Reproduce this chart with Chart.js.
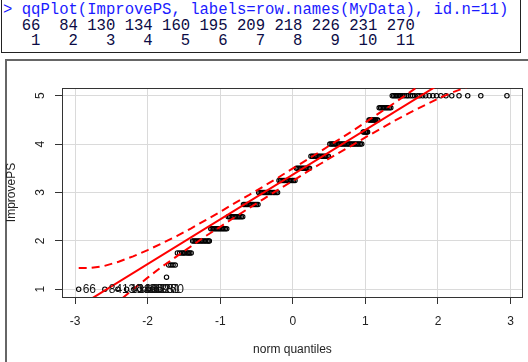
<!DOCTYPE html>
<html>
<head>
<meta charset="utf-8">
<script src="https://cdn.jsdelivr.net/npm/chart.js@4/dist/chart.umd.min.js"></script>
<style>
  body { margin:0; width:528px; height:362px; overflow:hidden; position:relative; background:#fff; }
  #consola { position:absolute; left:1px; top:-1px; width:518px; height:52px; border:1px solid #222; background:#fff; }
  #consola pre { margin:0; position:absolute; left:1px; top:3.3px; font-family:"Liberation Mono", monospace; font-size:15.6px; line-height:15.5px; color:#0b0b45; }
  #consola .cmd { color:#1a1aff; }
  #marco { position:absolute; left:5px; top:59px; width:540px; height:320px; border:2px solid #666; }
  #myChart { position:absolute; left:0; top:0; }
</style>
</head>
<body>
<div id="consola"><pre id="salida"></pre></div>
<div id="marco"></div>
<canvas id="myChart" width="528" height="362"></canvas>
<script>
// valores de ImprovePS (niveles) y cuantiles normales
const niveles = [1, 1.25, 1.5, 1.75, 2, 2.25, 2.5, 2.75, 3, 3.25, 3.5, 3.75, 4, 4.25, 4.5, 4.75, 5];
const cuantiles = [
  [-2.95, -2.59, -2.41, -2.29, -2.19, -2.11, -2.04, -1.98, -1.93, -1.88, -1.83],
  [-1.74],
  [-1.71, -1.68, -1.65, -1.62],
  [-1.59, -1.56, -1.53, -1.51, -1.49, -1.46, -1.44, -1.42, -1.40],
  [-1.38, -1.36, -1.34, -1.32, -1.30, -1.28, -1.26, -1.24, -1.22, -1.20, -1.18, -1.16, -1.15],
  [-1.13, -1.11, -1.09, -1.07, -1.05, -1.03, -1.01, -0.99, -0.97, -0.95, -0.93, -0.91],
  [-0.89, -0.87, -0.85, -0.83, -0.81, -0.79, -0.77, -0.75, -0.73, -0.71, -0.69],
  [-0.68, -0.66, -0.64, -0.62, -0.60, -0.58, -0.56, -0.54, -0.52, -0.50, -0.48],
  [-0.47, -0.45, -0.43, -0.41, -0.39, -0.37, -0.35, -0.33, -0.31, -0.29, -0.27, -0.25, -0.23, -0.21],
  [-0.19, -0.17, -0.15, -0.13, -0.11, -0.09, -0.07, -0.05, -0.03, -0.01, 0.01, 0.03],
  [0.05, 0.07, 0.09, 0.11, 0.13, 0.15, 0.17, 0.19, 0.21, 0.23],
  [0.25, 0.27, 0.29, 0.31, 0.33, 0.35, 0.37, 0.39, 0.41, 0.43, 0.45, 0.47, 0.49],
  [0.51, 0.53, 0.55, 0.57, 0.59, 0.61, 0.63, 0.65, 0.67, 0.69, 0.71, 0.73, 0.75, 0.77, 0.79, 0.81, 0.83, 0.85, 0.87, 0.89, 0.91, 0.93, 0.95],
  [0.97, 0.98, 1.00, 1.01, 1.02, 1.03],
  [1.05, 1.06, 1.08, 1.09, 1.10, 1.12, 1.13, 1.14, 1.16, 1.17],
  [1.19, 1.21, 1.23, 1.25, 1.27, 1.29, 1.31, 1.33, 1.35],
  [1.37, 1.39, 1.41, 1.43, 1.45, 1.47, 1.49, 1.51, 1.54, 1.57, 1.59, 1.62, 1.65, 1.68, 1.72, 1.75, 1.79, 1.83, 1.88, 1.93, 1.98, 2.04, 2.11, 2.19, 2.29, 2.41, 2.59, 2.95]
];

// puntos identificados (id.n=11)
const idLabels = ['66', '84', '130', '134', '160', '195', '209', '218', '226', '231', '270'];

// recta por cuartiles
const rectaX = [-3.18, 3.17];
const rectaY = [0.43, 6.30];

// banda de confianza
const bandaX = [-2.95, -2.8, -2.6, -2.4, -2.2, -2.0, -1.8, -1.6, -1.4, -1.2, -1.0, -0.8, -0.6, -0.4, -0.2, 0, 0.2, 0.4, 0.6, 0.8, 1.0, 1.2, 1.4, 1.6, 1.8, 2.0, 2.2, 2.4, 2.6, 2.8, 2.95];
const bandaSup = [1.44, 1.44, 1.48, 1.57, 1.68, 1.81, 1.95, 2.10, 2.26, 2.43, 2.60, 2.78, 2.95, 3.13, 3.31, 3.50, 3.68, 3.87, 4.06, 4.25, 4.45, 4.65, 4.85, 5.06, 5.27, 5.50, 5.74, 6.00, 6.28, 6.60, 6.90];
const bandaInf = [-0.16, 0.14, 0.46, 0.75, 1.00, 1.24, 1.47, 1.68, 1.89, 2.10, 2.29, 2.49, 2.68, 2.87, 3.06, 3.24, 3.43, 3.61, 3.79, 3.96, 4.14, 4.31, 4.48, 4.64, 4.79, 4.94, 5.07, 5.18, 5.26, 5.30, 5.30];

// texto de la consola
let linea2 = idLabels.map(t => t.padStart(4)).join('');
let linea3 = idLabels.map((t, i) => String(i + 1).padStart(4)).join('');
document.getElementById('salida').innerHTML =
  '<span class="cmd">&gt; qqPlot(ImprovePS, labels=row.names(MyData), id.n=11)</span>\n' + linea2 + '\n' + linea3;

let puntos = [];
niveles.forEach((v, i) => {
  cuantiles[i].forEach(q => puntos.push({x: q, y: v}));
});
const aPares = (xs, ys) => xs.map((x, i) => ({x: x, y: ys[i]}));

const etiquetas = {
  id: 'etiquetas',
  afterDatasetsDraw(chart) {
    const ctx = chart.ctx;
    const sx = chart.scales.x, sy = chart.scales.y;
    ctx.save();
    ctx.font = '12px "Liberation Sans", Arial, sans-serif';
    ctx.fillStyle = '#111';
    ctx.textAlign = 'left';
    ctx.textBaseline = 'middle';
    idLabels.forEach((t, i) => {
      ctx.fillText(t, sx.getPixelForValue(cuantiles[0][i]) + 4, sy.getPixelForValue(niveles[0]));
    });
    ctx.restore();
  }
};

Chart.defaults.font.family = '"Liberation Sans", Arial, sans-serif';
Chart.defaults.font.size = 12;
Chart.defaults.color = '#222';

const rejilla = { color: '#dadada', lineWidth: 1, tickLength: 7, tickColor: '#333', tickWidth: 1 };
const borde = { display: true, color: '#333', width: 1 };

new Chart(document.getElementById('myChart'), {
  type: 'scatter',
  data: {
    datasets: [
      { data: aPares(rectaX, rectaY), showLine: true, borderColor: '#ff0000', borderWidth: 2, pointRadius: 0, clip: 0 },
      { data: aPares(bandaX, bandaSup), showLine: true, borderColor: '#ff0000', borderWidth: 2, borderDash: [8, 5], pointRadius: 0, clip: 0 },
      { data: aPares(bandaX, bandaInf), showLine: true, borderColor: '#ff0000', borderWidth: 2, borderDash: [8, 5], pointRadius: 0, clip: 0 },
      { data: puntos, pointStyle: 'circle', pointRadius: 2.2, pointBorderWidth: 1.1, pointBorderColor: '#000', pointBackgroundColor: 'rgba(0,0,0,0)' }
    ]
  },
  options: {
    responsive: false,
    animation: false,
    layout: { padding: { top: 88, right: 4, bottom: 0, left: 0 } },
    plugins: { legend: { display: false }, tooltip: { enabled: false } },
    scales: {
      x: {
        type: 'linear', position: 'bottom', min: -3.18, max: 3.17,
        afterFit(s) { s.height = 65; },
        ticks: { stepSize: 1, includeBounds: false, autoSkip: false, padding: 10 },
        grid: rejilla,
        border: borde,
        title: { display: true, text: 'norm quantiles', padding: { top: 0, bottom: 5 } }
      },
      y: {
        type: 'linear', position: 'left', min: 0.84, max: 5.16,
        afterFit(s) { s.width = 62; },
        ticks: { stepSize: 1, includeBounds: false, minRotation: 90, maxRotation: 90, crossAlign: 'center', padding: 11 },
        grid: rejilla,
        border: borde,
        title: { display: true, text: 'ImprovePS', padding: { top: 4, bottom: 0 } }
      },
      x2: {
        type: 'linear', position: 'top', afterFit(s) { s.height = 0; },
        ticks: { display: false }, grid: { display: false, drawTicks: false }, border: borde
      },
      y2: {
        type: 'linear', position: 'right', afterFit(s) { s.width = 0; },
        ticks: { display: false }, grid: { display: false, drawTicks: false }, border: borde
      }
    }
  },
  plugins: [etiquetas]
});
</script>
</body>
</html>
